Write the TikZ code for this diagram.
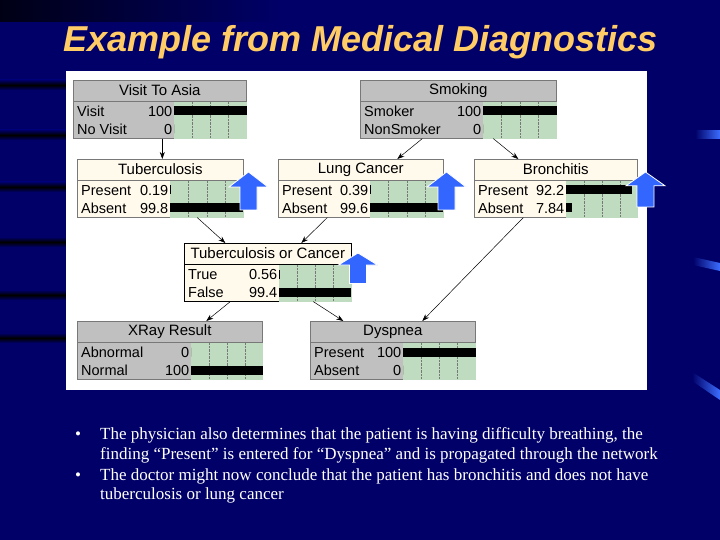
\documentclass[tikz,border=0pt]{standalone}
\usepackage{fontspec}
\setmainfont{Liberation Serif}
\setsansfont{Liberation Sans}
\usetikzlibrary{positioning,arrows.meta,calc}

\definecolor{slidebg}{RGB}{0,0,104}
\definecolor{streakblue}{RGB}{60,110,255}
\definecolor{titlegold}{RGB}{255,204,102}
\definecolor{boxgray}{RGB}{192,192,192}
\definecolor{edgegray}{RGB}{120,120,120}
\definecolor{boxcream}{RGB}{255,250,236}
\definecolor{bargreen}{RGB}{192,220,192}
\definecolor{hintblue}{RGB}{51,102,255}

% network box: name, style, x, y, width, bar x, title
\newcommand{\netbox}[7]{%
  \node[#2, minimum width=#5pt, anchor=north west] (#1) at (#3,#4) {};
  \coordinate (#1-bar) at (#6,#4);
  \draw[#2] (#1.north west) rectangle ($(#1.north east)+(0,21)$);
  \node[nettitle] at ($(#1.north)+(0,10.5)$) {#7};
  \fill[bargreen] ($(#1-bar)+(0,22)$) rectangle (#1.south east);
  \foreach \q in {0.25,0.5,0.75}
    \draw[gridline] ($(#1-bar)!\q!(#1.north east)+(0,22)$) -- ($(#1-bar)!\q!(#1.north east)+(0,58)$);
}
% state row: name, row y, label, value, fraction
\newcommand{\netrow}[5]{%
  \fill ($(#1-bar)+(0,#2-4.5)$) rectangle ($(#1-bar)!#5!(#1.north east)+(0,#2+4.5)$);
  \node[netlabel, anchor=base west] at ($(#1.north west)+(4,#2+5.5)$) {#3};
  \node[netlabel, anchor=base east] at ($(#1-bar)+(-1.5,#2+5.5)$) {#4};
}
% blue up arrow: tip x, tip y, yscale
\newcommand{\hintarrow}[3]{%
  \draw[hint, shift={(#1,#2)}, yscale=#3] (0,0) -- ++(19.5,15) -- ++(-11,0) -- ++(0,23)
    -- ++(-17,0) -- ++(0,-23) -- ++(-11,0) -- cycle;
}

\begin{document}
\begin{tikzpicture}[x=1pt, y=-1pt,
  graynet/.style={draw=edgegray, fill=boxgray, line width=0.6pt, inner sep=0pt, minimum height=58pt},
  creamnet/.style={draw=edgegray, fill=boxcream, line width=0.6pt, inner sep=0pt, minimum height=58pt},
  tocnet/.style={draw=black, fill=boxcream, line width=0.6pt, inner sep=0pt, minimum height=58pt},
  nettitle/.style={font=\sffamily\fontsize{15}{17}\selectfont, inner sep=0pt},
  netlabel/.style={font=\sffamily\fontsize{14.5}{17}\selectfont, inner sep=0pt},
  gridline/.style={draw=edgegray, densely dotted, line width=0.4pt},
  link/.style={-{Stealth[length=7pt, width=5pt]}, line width=0.5pt},
  hint/.style={fill=hintblue, draw=white, line width=0.8pt},
  bullettext/.style={text=white, font=\fontsize{17}{19.5}\selectfont, align=left, inner sep=0pt},
]
\useasboundingbox (0,0) rectangle (720,540);
% slide background
\fill[slidebg] (0,0) rectangle (720,540);
\shade[left color=black!80!slidebg, right color=slidebg] (0,0) rectangle (280,22);
\foreach \y in {85,135,187,242,295,338}
  \shade[top color=slidebg, bottom color=slidebg, middle color=black] (0,\y-5) rectangle (70,\y+5);
\shade[left color=slidebg, right color=streakblue] (695,131) -- (720,131) -- (720,139) -- (695,139) -- cycle;
\shade[left color=slidebg, right color=streakblue] (693,257) -- (720,263) -- (720,271) -- (693,265) -- cycle;
\shade[left color=slidebg, right color=streakblue] (692,372) -- (720,390) -- (720,400) -- (692,381) -- cycle;

\node[text=titlegold, font=\sffamily\bfseries\itshape\fontsize{36}{42}\selectfont, anchor=base west, inner sep=0pt]
  (title) at (63,52) {Example from Medical Diagnostics};

\node[fill=white, inner sep=0pt, minimum width=581pt, minimum height=319pt, anchor=north west] (panel) at (66,71) {};

% network
\netbox{visit}{graynet}{73}{80}{173}{174}{Visit To Asia}
\netrow{visit}{31}{Visit}{100}{1}
\netrow{visit}{49}{No Visit}{0}{0}
\netbox{smoke}{graynet}{360}{80}{196}{483}{Smoking}
\netrow{smoke}{31}{Smoker}{100}{1}
\netrow{smoke}{49}{NonSmoker}{0}{0}
\netbox{tub}{creamnet}{77}{159}{166}{170}{Tuberculosis}
\netrow{tub}{31}{Present}{0.19}{0.0019}
\netrow{tub}{49}{Absent}{99.8}{0.998}
\netbox{lung}{creamnet}{278}{159}{165}{370}{Lung Cancer}
\netrow{lung}{31}{Present}{0.39}{0.0039}
\netrow{lung}{49}{Absent}{99.6}{0.996}
\netbox{bron}{creamnet}{474}{159}{163}{566}{Bronchitis}
\netrow{bron}{31}{Present}{92.2}{0.922}
\netrow{bron}{49}{Absent}{7.84}{0.0784}
\netbox{toc}{tocnet}{184}{243}{167}{279}{Tuberculosis or Cancer}
\netrow{toc}{31}{True}{0.56}{0.0056}
\netrow{toc}{49}{False}{99.4}{0.994}
\netbox{xray}{graynet}{77}{321}{185}{191}{XRay Result}
\netrow{xray}{31}{Abnormal}{0}{0}
\netrow{xray}{49}{Normal}{100}{1}
\netbox{dys}{graynet}{310}{321}{165}{403}{Dyspnea}
\netrow{dys}{31}{Present}{100}{1}
\netrow{dys}{49}{Absent}{0}{0}

\draw[link] ([xshift=2.5pt]visit.south) -- ([xshift=2pt]tub.north);
\draw[link] ([xshift=-36pt]smoke.south) -- ([xshift=36.5pt]lung.north);
\draw[link] ([xshift=35pt]smoke.south) -- ([xshift=-37.5pt]bron.north);
\draw[link] ([xshift=37pt]tub.south) -- ([xshift=-42.5pt]toc.north);
\draw[link] ([xshift=-33.5pt]lung.south) -- ([xshift=33.5pt]toc.north);
\draw[link] ([xshift=-32.5pt]bron.south) -- ([xshift=29.5pt]dys.north);
\draw[link] ([xshift=-37.5pt]toc.south) -- ([xshift=36.5pt]xray.north);
\draw[link] ([xshift=45.5pt]toc.south) -- ([xshift=-49.5pt]dys.north);

% propagation hints
\hintarrow{248.5}{172}{1}
\hintarrow{446.5}{172}{1}
\hintarrow{645.5}{172}{0.92}
\hintarrow{358}{253}{0.8}

% bullets
\node[bullettext, anchor=base west] (dot1) at (75,439) {•};
\node[bullettext, anchor=north west] (item1) at (100,427.5) {The physician also determines that the patient is having difficulty breathing, the\\finding “Present” is entered for “Dyspnea” and is propagated through the network};
\node[bullettext, anchor=base west] (dot2) at (75,480) {•};
\node[bullettext, anchor=north west] (item2) at (100,468.5) {The doctor might now conclude that the patient has bronchitis and does not have\\tuberculosis or lung cancer};
\end{tikzpicture}
\end{document}
